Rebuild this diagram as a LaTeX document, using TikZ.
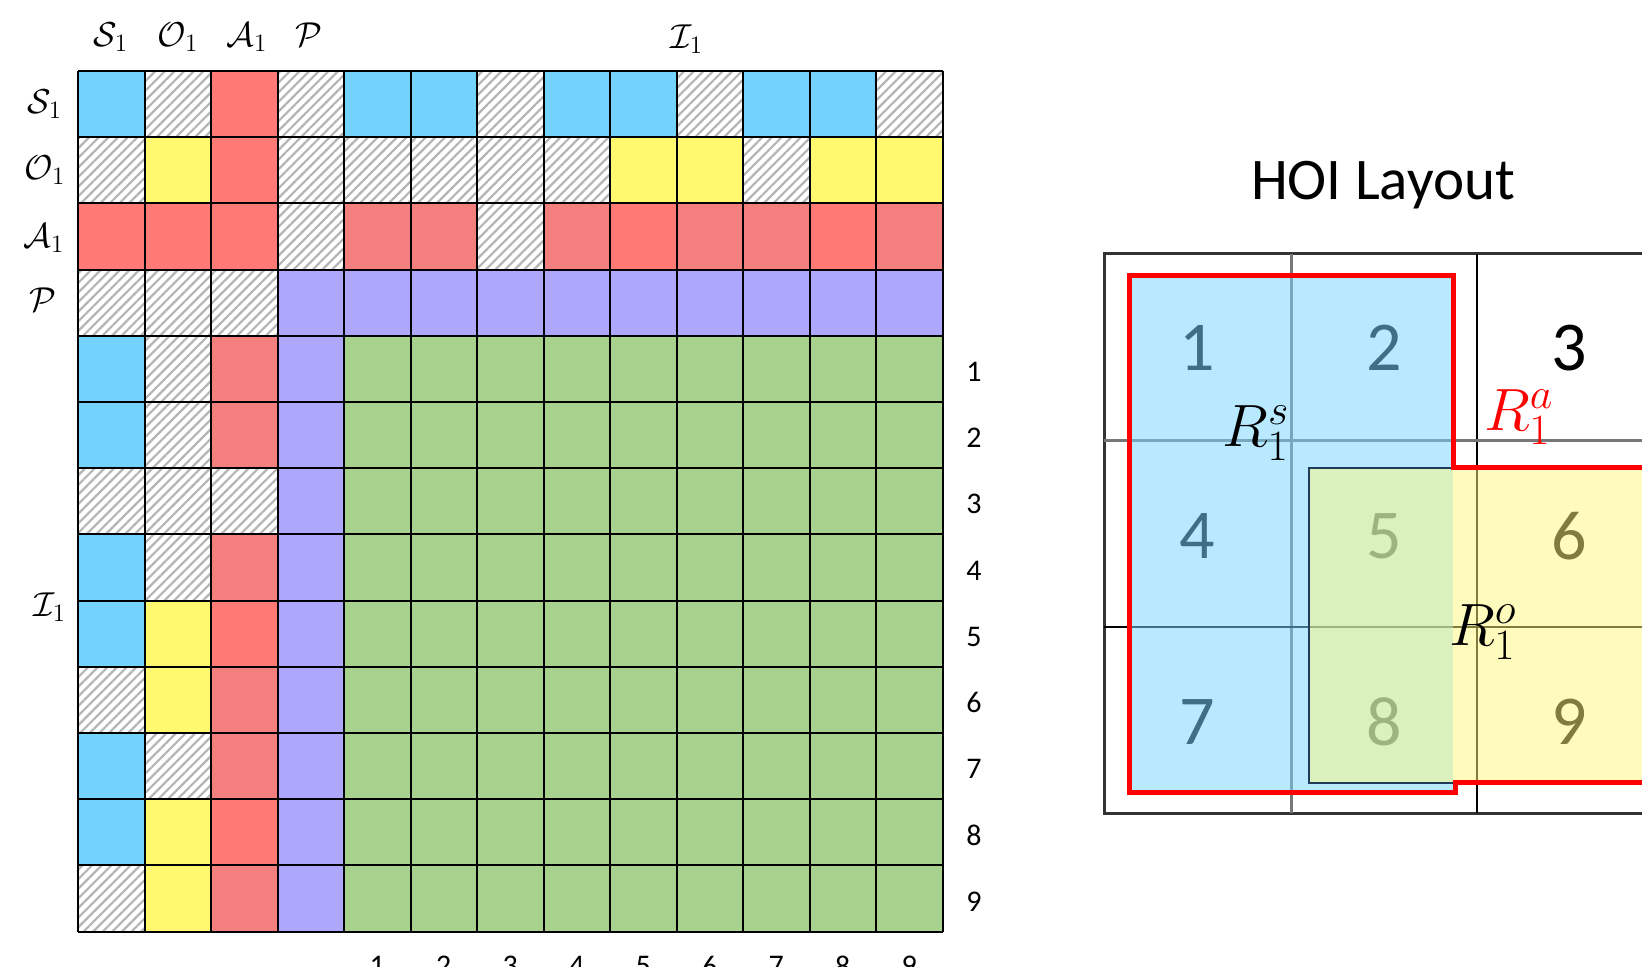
\RequirePackage{fix-cm}
\documentclass[tikz,border=0pt]{standalone}
\usepackage{fontspec}
\setmainfont{Carlito}
\usetikzlibrary{patterns.meta}
\DeclareMathSizes{24.88}{24.88}{18}{14}
\DeclareMathSizes{17.28}{17.28}{12.5}{10}
\definecolor{cblue}{HTML}{74D3FC}
\definecolor{cyellow}{HTML}{FFF96F}
\definecolor{cred}{HTML}{F47F7F}
\definecolor{credb}{HTML}{FF7A74}
\definecolor{cpurple}{HTML}{ADA7FD}
\definecolor{cgreen}{HTML}{A9D18E}
\definecolor{hatchgray}{HTML}{B5B5B5}
\definecolor{ovblue}{HTML}{77D6FF}
\definecolor{ovyellow}{HTML}{FFF97D}
\definecolor{ynavy}{HTML}{1F3A5A}
\definecolor{gridgray}{HTML}{777777}
\definecolor{griddark}{HTML}{333333}
\tikzset{
  cell b/.style={fill=cblue},
  cell y/.style={fill=cyellow},
  cell r/.style={fill=cred},
  cell R/.style={fill=credb},
  cell p/.style={fill=cpurple},
  cell g/.style={fill=cgreen},
  cell h/.style={fill=white, pattern={Lines[angle=45,distance=3.4pt,line width=1.1pt]}, pattern color=hatchgray},
  axlab/.style={inner sep=0pt, font=\fontsize{17.28}{19}\selectfont},
  axnum/.style={inner sep=0pt, font=\fontsize{15}{17}\selectfont},
  hoinum/.style={inner sep=0pt, font=\fontsize{35}{40}\selectfont},
  rlab/.style={inner sep=0pt, font=\fontsize{24.88}{30}\selectfont},
  matline/.style={line width=1pt, black},
}
\newcommand{\rbig}[1]{\scalebox{1.22}[1.2]{$#1$}}
\begin{document}
\begin{tikzpicture}[x=0.5pt,y=-0.5pt]
\useasboundingbox (0,0) rectangle (1642,967);
\fill[white] (0,0) rectangle (1642,967);

% ---------------- attention matrix ----------------
\def\cw{66.5}
\def\ch{66.2}
\foreach \r/\codes in {
  0/{b,h,R,h,b,b,h,b,b,h,b,b,h},
  1/{h,y,R,h,h,h,h,h,y,y,h,y,y},
  2/{R,R,R,h,r,r,h,r,R,r,r,R,r},
  3/{h,h,h,p,p,p,p,p,p,p,p,p,p},
  4/{b,h,r,p,g,g,g,g,g,g,g,g,g},
  5/{b,h,r,p,g,g,g,g,g,g,g,g,g},
  6/{h,h,h,p,g,g,g,g,g,g,g,g,g},
  7/{b,h,r,p,g,g,g,g,g,g,g,g,g},
  8/{b,y,R,p,g,g,g,g,g,g,g,g,g},
  9/{h,y,r,p,g,g,g,g,g,g,g,g,g},
  10/{b,h,r,p,g,g,g,g,g,g,g,g,g},
  11/{b,y,R,p,g,g,g,g,g,g,g,g,g},
  12/{h,y,r,p,g,g,g,g,g,g,g,g,g}}{
  \foreach \code [count=\c from 0] in \codes {
    \path[cell \code] ({78+\c*\cw},{71+\r*\ch}) rectangle ++(\cw,\ch);
  }
}
\foreach \k in {0,...,13}{
  \draw[matline] ({78+\k*\cw},71) -- ({78+\k*\cw},{71+13*\ch});
  \draw[matline] (78,{71+\k*\ch}) -- ({78+13*\cw},{71+\k*\ch});
}

% axis labels
\node[axlab] (tS) at (111,37) {$\mathcal{S}_1$};
\node[axlab] (tO) at (178,37) {$\mathcal{O}_1$};
\node[axlab] (tA) at (247,37) {$\mathcal{A}_1$};
\node[axlab] (tP) at (309,35) {$\mathcal{P}$};
\node[axlab] (tI) at (687,39) {$\mathcal{I}_1$};
\node[axlab] (lS) at (45,104) {$\mathcal{S}_1$};
\node[axlab] (lO) at (45,170) {$\mathcal{O}_1$};
\node[axlab] (lA) at (44,238) {$\mathcal{A}_1$};
\node[axlab] (lP) at (43,300) {$\mathcal{P}$};
\node[axlab] (lI) at (50,607) {$\mathcal{I}_1$};
\foreach \i in {1,...,9}{
  \node[axnum] (rn\i) at (974,{71+(\i+3.5)*\ch+3}) {\i};
  \node[axnum] (bn\i) at ({78+(\i+3.5)*\cw},966) {\i};
}

% ---------------- HOI layout ----------------
\node[inner sep=0pt, anchor=base, font=\fontsize{29.5}{32}\selectfont] (title) at (1383,200) {HOI Layout};

\draw[line width=1.5pt, griddark] (1104,254) rectangle (1680,813);
\draw[line width=1.5pt, gridgray] (1291,254) -- (1291,813);
\draw[line width=1pt, black] (1477,254) -- (1477,813);
\draw[line width=1.5pt, gridgray] (1104,441) -- (1680,441);
\draw[line width=1pt, black] (1104,627) -- (1680,627);

\node[hoinum] (n1) at (1197,348) {1};
\node[hoinum] (n2) at (1384,348) {2};
\node[hoinum] (n3) at (1569,348) {3};
\node[hoinum] (n4) at (1197,536) {4};
\node[hoinum] (n5) at (1384,536) {5};
\node[hoinum] (n6) at (1569,536) {6};
\node[hoinum] (n7) at (1197,722) {7};
\node[hoinum] (n8) at (1384,722) {8};
\node[hoinum] (n9) at (1569,722) {9};

% subject region
\fill[ovblue, fill opacity=0.52] (1129,275) rectangle (1453,792);
% object region
\fill[ovyellow, fill opacity=0.5] (1309,468) rectangle (1690,783);
\draw[ynavy, line width=1.2pt] (1690,468) -- (1309,468) -- (1309,783) -- (1690,783);
% action region outline
\draw[red, line width=2.5pt, line join=miter]
  (1129,275.5) -- (1453,275.5) -- (1453,467.5) -- (1700,467.5)
  -- (1700,782.5) -- (1455.5,782.5) -- (1455.5,792.5) -- (1129,792.5) -- cycle;

\node[rlab] (Rs) at (1256,433) {\rbig{R_1^s}};
\node[rlab, text=red] (Ra) at (1519,417) {\rbig{R_1^a}};
\node[rlab] (Ro) at (1483,632) {\rbig{R_1^o}};
\end{tikzpicture}
\end{document}
